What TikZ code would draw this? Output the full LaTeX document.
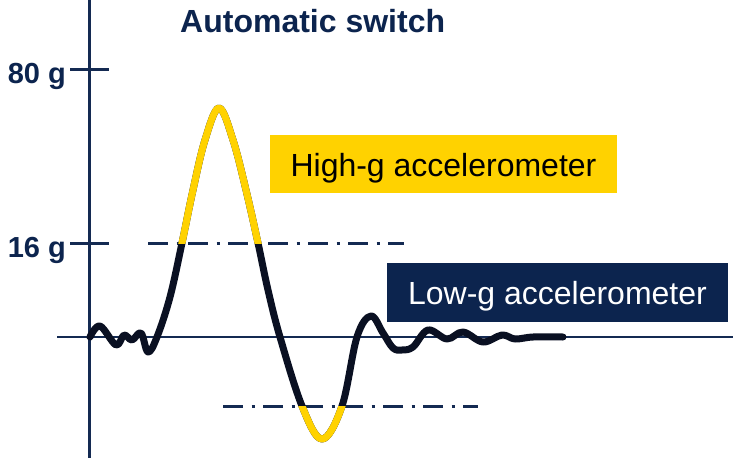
\documentclass[tikz,border=0pt]{standalone}
\usepackage{fontspec}
\setmainfont{Liberation Sans}
\definecolor{navy}{RGB}{12,36,78}
\definecolor{axisnavy}{RGB}{20,42,82}
\definecolor{curveblack}{RGB}{10,16,34}
\definecolor{gold}{RGB}{255,210,0}
\tikzset{
  axisline/.style={draw=axisnavy, line width=2.5pt},
  threshold/.style={draw=axisnavy, line width=3pt, dash pattern=on 20pt off 8.5pt on 3pt off 8.5pt},
  signal/.style={line width=7pt, line join=round, line cap=round},
  glabel/.style={anchor=base east, inner sep=0pt, text=navy, font=\fontsize{29}{32}\selectfont\bfseries},
  titletext/.style={anchor=base west, inner sep=0pt, text=navy, font=\fontsize{32}{36}\selectfont\bfseries},
  labelbox/.style={inner sep=0pt, font=\fontsize{32}{36}\selectfont, text depth=0pt}
}
\begin{document}
\begin{tikzpicture}[x=1pt,y=-1pt]
\useasboundingbox[fill=white] (0,0) rectangle (736,458);
% axes
\coordinate (ytop) at (89.5,0);
\coordinate (ybot) at (89.5,458);
\coordinate (xl) at (57,337);
\coordinate (xr) at (733,337);
\draw[axisline] (ytop) -- (ybot);
\draw[axisline] (xl) -- (xr);
% ticks
\coordinate (t80a) at (70,69.5);
\coordinate (t80b) at (109,69.5);
\coordinate (t16a) at (70,243.5);
\coordinate (t16b) at (109,243.5);
\draw[axisline] (t80a) -- (t80b);
\draw[axisline] (t16a) -- (t16b);
% labels
\node[glabel] (l80) at (66,83) {80 g};
\node[glabel] (l16) at (66,257) {16 g};
\node[titletext] (title) at (180,32) {Automatic switch};
% threshold lines
\coordinate (h1a) at (148,243.5);
\coordinate (h1b) at (404,243.5);
\coordinate (h2a) at (223,406);
\coordinate (h2b) at (478,406);
\draw[threshold] (h1a) -- (h1b);
\draw[threshold] (h2a) -- (h2b);
% boxes
\node[labelbox, fill=gold, text=black, minimum width=347pt, minimum height=58pt, text height=24pt] (high) at (443.5,164) {High-g accelerometer};
\node[labelbox, fill=navy, text=white, minimum width=341pt, minimum height=59pt, text height=23pt] (low) at (557.5,292.5) {Low-g accelerometer};
% signal
\def\sigpath{plot[smooth, tension=0.6] coordinates {(90,337) (100,326) (116,345) (124,335) (132,340) (141,333) (148,352) (157,337) (170,297) (182,243) (193,190) (205,140) (219,108) (233,140) (246,190) (258,243) (268,290) (280,337) (302,406) (322,439) (342,406) (357,337) (371,316) (383,333) (393,348) (402,350) (413,347) (428,330) (447,339) (463,332) (483,342) (502,335) (515,339) (533,337) (563,337)}}
\draw[signal, curveblack] \sigpath;
\begin{scope}
  \clip (0,0) rectangle (736,243.5);
  \draw[signal, gold] \sigpath;
\end{scope}
\begin{scope}
  \clip (0,406) rectangle (736,458);
  \draw[signal, gold] \sigpath;
\end{scope}
\end{tikzpicture}
\end{document}
